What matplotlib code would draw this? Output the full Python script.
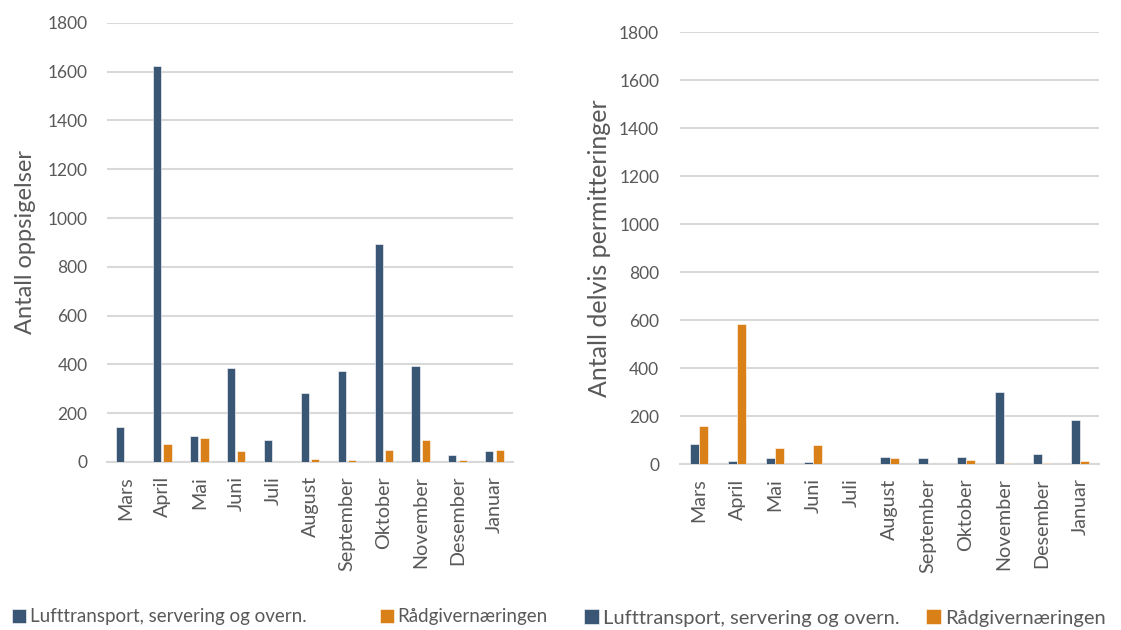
import matplotlib
matplotlib.use("Agg")
import matplotlib.pyplot as plt
import numpy as np

months = ["Mars", "April", "Mai", "Juni", "Juli", "August", "September",
          "Oktober", "November", "Desember", "Januar"]
series_names = ["Lufttransport, servering og overn.", "Rådgivernæringen"]

# Antall oppsigelser
oppsig_luft = [145, 1622, 105, 384, 92, 284, 372, 892, 392, 27, 43]
oppsig_raad = [0, 73, 100, 44, 0, 11, 8, 48, 92, 8, 48]

# Antall delvis permitteringer
perm_luft = [85, 14, 29, 11, 1, 31, 26, 31, 304, 43, 186]
perm_raad = [161, 585, 68, 81, 1, 25, 1, 18, 7, 7, 13]

yticks = [0, 200, 400, 600, 800, 1000, 1200, 1400, 1600, 1800]

BLUE = "#3A5675"
ORANGE = "#D98019"
GRID = "#D9D9D9"
TEXT = "#595959"

plt.rcParams["font.family"] = ["Lato", "DejaVu Sans"]

fig = plt.figure(figsize=(11.21, 6.30), dpi=100)
ax1 = fig.add_axes([0.0955, 0.2667, 0.362, 0.697])
ax2 = fig.add_axes([0.6066, 0.2627, 0.3738, 0.686])


def draw(ax, a, b, ylabel, width, offset, ypad, leg_pos, leg_fs, colsp,
         ylab_fs, ylab_pad):
    x = np.arange(len(months))
    ax.bar(x - offset, a, width, color=BLUE, label=series_names[0], zorder=3,
           edgecolor="white", linewidth=0.4)
    ax.bar(x + offset, b, width, color=ORANGE, label=series_names[1], zorder=3,
           edgecolor="white", linewidth=0.4)
    ax.set_xlim(-0.5, len(months) - 0.5)
    ax.set_ylim(0, 1800)
    ax.set_yticks(yticks)
    ax.set_xticks(x)
    ax.set_xticklabels(months, rotation=90)
    ax.tick_params(axis="y", length=0, pad=ypad, labelsize=12.5, labelcolor=TEXT)
    ax.tick_params(axis="x", length=0, pad=10, labelsize=14.2, labelcolor=TEXT)
    ax.grid(axis="y", color=GRID, linewidth=1.5, zorder=0)
    for s in ["top", "right", "left"]:
        ax.spines[s].set_visible(False)
    ax.spines["bottom"].set_color(GRID)
    ax.spines["bottom"].set_linewidth(1.5)
    ax.set_ylabel(ylabel, fontsize=ylab_fs, color=TEXT, labelpad=ylab_pad)
    ax.legend(loc="center left", bbox_to_anchor=leg_pos, ncol=2, frameon=False,
              fontsize=leg_fs, labelcolor=TEXT, handlelength=0.75,
              handleheight=0.75, handletextpad=0.2, columnspacing=colsp,
              bbox_transform=fig.transFigure, borderaxespad=0, borderpad=0)


draw(ax1, oppsig_luft, oppsig_raad, "Antall oppsigelser",
     0.22, 0.14, 14, (0.011, 0.021), 13.5, 3.9, 17, 8)
draw(ax2, perm_luft, perm_raad, "Antall delvis permitteringer",
     0.24, 0.12, 15, (0.521, 0.019), 14.5, 1.3, 18, 6)

fig.savefig("out.png", dpi=100, facecolor="white")
